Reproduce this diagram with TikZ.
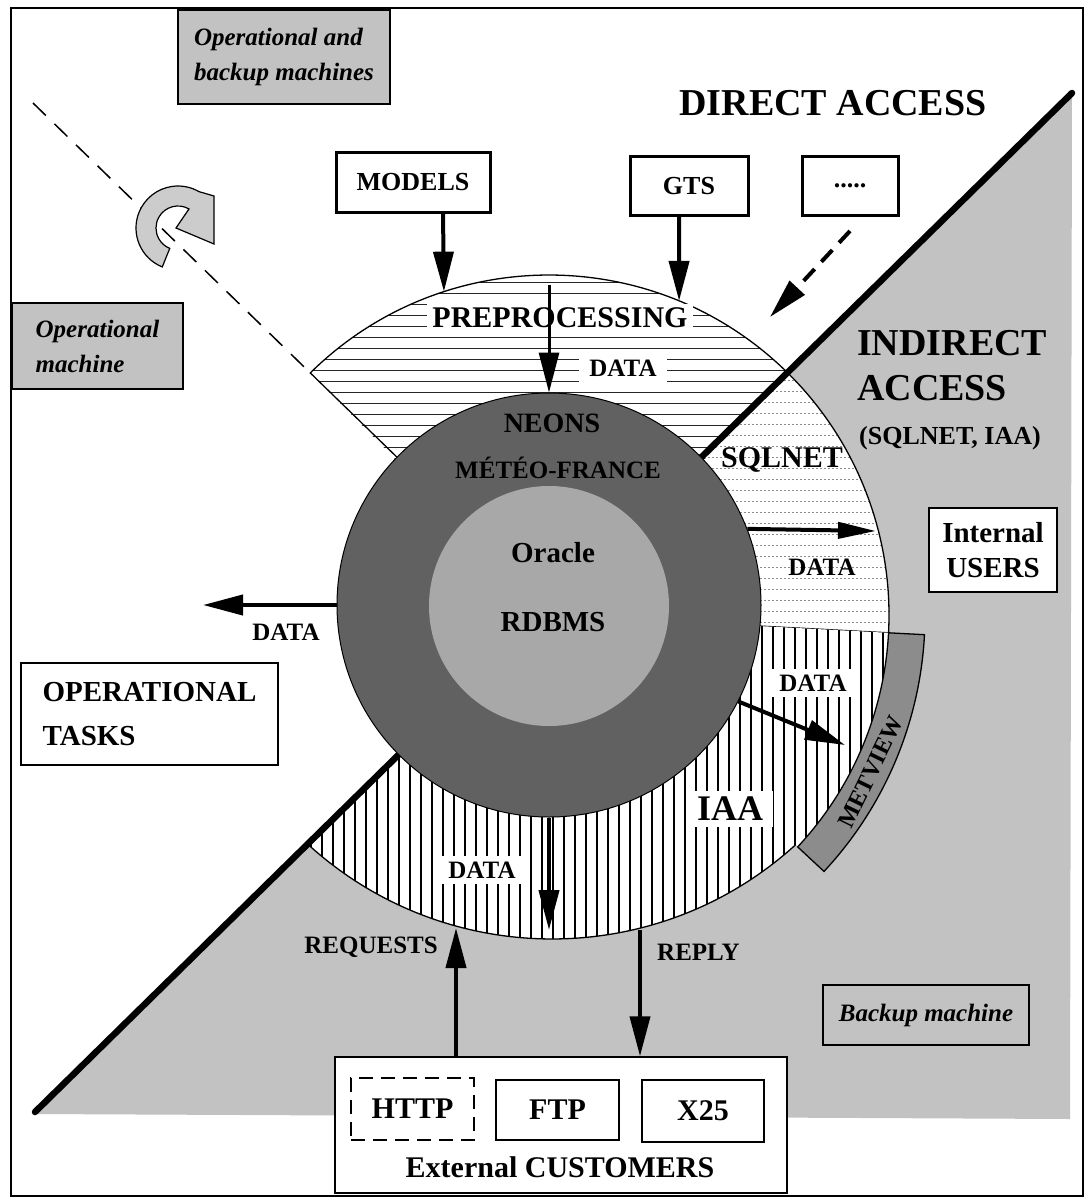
\documentclass[tikz,border=0pt]{standalone}
\usepackage{fontspec}
\setmainfont{Liberation Serif}
\usetikzlibrary{arrows.meta, calc, positioning}

\tikzstyle{srcbox} = [draw, line width=3pt, fill=white, inner sep=0pt, font=\fontsize{26}{30}\selectfont\bfseries]
\tikzstyle{userbox} = [draw, line width=1.4pt, fill=white, inner sep=0pt, align=center, font=\fontsize{29}{35}\selectfont\bfseries]
\tikzstyle{machbox} = [draw, line width=1.4pt, fill=black!24, inner sep=0pt, align=left, font=\fontsize{25}{35}\selectfont\bfseries\itshape]
\tikzstyle{lbl} = [inner sep=2pt, font=\fontsize{25}{30}\selectfont\bfseries]
\tikzstyle{wlbl} = [lbl, fill=white, inner xsep=10pt, inner ysep=6pt]
\tikzstyle{title} = [inner sep=0pt, font=\fontsize{38}{45}\selectfont\bfseries]
\tikzstyle{flow} = [line width=4pt, -{Triangle[length=40pt, width=20pt]}]

\begin{document}
\begin{tikzpicture}[x=1pt, y=-1pt]
\useasboundingbox (0,0) rectangle (1090,1202);
\fill[white] (0,0) rectangle (1090,1202);
\draw[line width=1.6pt] (11,8) rectangle (1083,1196);

% centres of the rings
\coordinate (O) at (549,605);
\coordinate (Ob) at (549,615);
\coordinate (Oi) at (552,577);
\coordinate (PL) at ($(Ob)+(225.4:340)$);

% backup side
\fill[black!24] (35,1114) -- (1072,93) -- (1070,1119) -- cycle;

% switch-over
\draw[line width=1.5pt, dash pattern=on 18pt off 12pt] (33,103) -- (PL);
\coordinate (U) at (178,228);
\filldraw[fill=black!20, line width=1.2pt] ($(U)+(112:42)$) arc[start angle=112, end angle=300, radius=42] -- (214,196) -- (214,244) -- (176,228) -- ($(U)+(300:22)$) arc[start angle=300, end angle=112, radius=22] -- cycle;

% preprocessing ring part
\begin{scope}
  \clip (Ob) -- (PL) arc[start angle=225.4, end angle=315, radius=340] -- cycle;
  \fill[white] (200,250) rectangle (900,650);
  \foreach \y in {282,293,...,620} \draw[line width=0.9pt, black!85] (280,\y) -- (820,\y);
\end{scope}
\draw[line width=1.3pt] (O) -- (PL) arc[start angle=225.4, end angle=315, radius=340];

% sqlnet ring part
\begin{scope}
  \clip (Ob) -- ($(Ob)+(315:340)$) arc[start angle=315, end angle=363, radius=340] -- cycle;
  \fill[white] (500,250) rectangle (950,700);
  \foreach \y in {380,391,...,640} \draw[line width=0.7pt, black!45, dash pattern=on 2pt off 2pt] (500,\y) -- (950,\y);
\end{scope}
\draw[line width=1.3pt] ($(Ob)+(315:340)$) arc[start angle=315, end angle=363, radius=340] -- (Ob);

% iaa ring part
\begin{scope}
  \clip (Ob) -- ($(Ob)+(3:340)$) arc[start angle=3, end angle=43, radius=340] -- ($(Oi)+(47.7:362)$) arc[start angle=47.7, end angle=132.4, radius=362] -- cycle;
  \fill[white] (250,550) rectangle (950,1000);
  \foreach \x in {300,311,...,900} \draw[line width=2.2pt] (\x,550) -- (\x,1000);
\end{scope}
\draw[line width=1.3pt] ($(Oi)+(47.7:362)$) arc[start angle=47.7, end angle=132.4, radius=362];

% metview band
\filldraw[fill=black!45, line width=1.3pt] ($(Ob)+(3:340)$) arc[start angle=3, end angle=43, radius=340] -- ($(Ob)+(43:376)$) arc[start angle=43, end angle=3, radius=376] -- cycle;
\node[rotate=64, inner sep=0pt, font=\fontsize{24}{28}\selectfont\bfseries] (metview) at ($(Ob)+(26:358)$) {METVIEW};

% border between direct and indirect access
\draw[line width=6.5pt, line cap=round] (35,1112) -- (1072,93);

% database
\node[circle, draw, line width=1pt, fill=black!62, minimum size=424pt, inner sep=0pt] (neons) at (O) {};
\node[circle, fill=black!34, minimum size=240pt, inner sep=0pt] (rdbms) at (549,606) {};
\node[lbl, font=\fontsize{28}{32}\selectfont\bfseries] (neonslbl) at (552,423) {NEONS};
\node[lbl] (meteo) at (558,468) {MÉTÉO-FRANCE};
\node[lbl, font=\fontsize{29}{32}\selectfont\bfseries] (oracle) at (553,553) {Oracle};
\node[lbl, font=\fontsize{29}{32}\selectfont\bfseries] (rdbmslbl) at (553,622) {RDBMS};

% machines
\node[machbox, minimum width=212pt, minimum height=94pt] (opbackup) at (284,57) {Operational and\\backup machines};
\node[machbox, minimum width=171pt, minimum height=86pt] (opmach) at (97.5,346) {Operational\\machine};
\node[machbox, minimum width=206pt, minimum height=60pt] (backup) at (926,1015) {Backup machine};

% sources
\node[srcbox, minimum width=154pt, minimum height=60pt] (models) at (413,182) {MODELS};
\node[srcbox, minimum width=118pt, minimum height=59pt] (gts) at (689,186) {GTS};
\node[srcbox, minimum width=96pt, minimum height=59pt] (dots) at (850,186) {.....};
\node[title] (direct) at (833,103) {DIRECT ACCESS};
\node[title, anchor=base west] (ind1) at (857,355) {INDIRECT};
\node[title, anchor=base west] (ind2) at (857,400) {ACCESS};
\node[title, anchor=base west, font=\fontsize{26}{30}\selectfont\bfseries] (ind3) at (859,444) {(SQLNET, IAA)};

% labels in the rings
\node[wlbl, font=\fontsize{30}{34}\selectfont\bfseries, inner xsep=5pt, inner ysep=4pt] (prep) at (560,318) {PREPROCESSING};
\node[wlbl] (prepdata) at (623,368) {DATA};
\node[lbl, font=\fontsize{30}{34}\selectfont\bfseries] (sqlnet) at (782,460) {SQLNET};
\node[lbl] (sqldata) at (822,567) {DATA};
\node[wlbl] (iaadata) at (813,683) {DATA};
\node[wlbl, font=\fontsize{36}{40}\selectfont\bfseries] (iaa) at (730,809) {IAA};
\node[wlbl] (botdata) at (482,870) {DATA};
\node[lbl] (leftdata) at (286,632) {DATA};

% users
\node[userbox, minimum width=257pt, minimum height=102pt, align=left, font=\fontsize{29}{44}\selectfont\bfseries] (optasks) at (149.5,714) {OPERATIONAL\\TASKS};
\node[userbox, minimum width=128pt, minimum height=84pt] (users) at (993,550) {Internal\\USERS};
\node[userbox, minimum width=452pt, minimum height=136pt] (ext) at (561,1125) {};
\node[userbox, draw=none, fill=none, font=\fontsize{30}{34}\selectfont\bfseries] (extlbl) at (560,1167) {External CUSTOMERS};
\node[userbox, dash pattern=on 14pt off 8pt, minimum width=123pt, minimum height=62pt, font=\fontsize{30}{34}\selectfont\bfseries] (http) at (412.5,1109) {HTTP};
\node[userbox, minimum width=123pt, minimum height=60pt, font=\fontsize{30}{34}\selectfont\bfseries] (ftp) at (557.5,1110) {FTP};
\node[userbox, minimum width=122pt, minimum height=62pt, font=\fontsize{30}{34}\selectfont\bfseries] (x25) at (703,1111) {X25};
\node[lbl, anchor=east] (requests) at (440,947) {REQUESTS};
\node[lbl, anchor=west] (reply) at (655,952) {REPLY};

% flows
\coordinate (ctop) at (549,285);
\coordinate (dtip) at (770,317);
\coordinate (ltip) at (203,605);
\coordinate (stip) at (876,531);
\coordinate (mvtip) at (845,745);
\coordinate (btip) at (549,930);
\coordinate (qtip) at (456,928);
\coordinate (rtop) at (640,930);
\draw[flow] ([xshift=30pt]models.south) -- ($(Ob)+(252:340)$);
\draw[flow] ([xshift=-10pt]gts.south) -- ($(Ob)+(292.5:340)$);
\draw[flow, dash pattern=on 16pt off 10pt] ([yshift=-14pt]dots.south) -- (dtip);
\draw[flow, line width=3pt] (ctop) -- (neons.north);
\draw[flow] (neons.west) -- (ltip);
\draw[flow, -{Triangle[length=38pt, width=16pt]}] (neons.21) -- (stip);
\draw[flow] (neons.-27) -- (mvtip);
\draw[flow] (neons.south) -- (btip);
\draw[flow] ([xshift=-105pt]ext.north) -- (qtip);
\draw[flow] (rtop) -- ([xshift=79pt]ext.north);
\end{tikzpicture}
\end{document}
